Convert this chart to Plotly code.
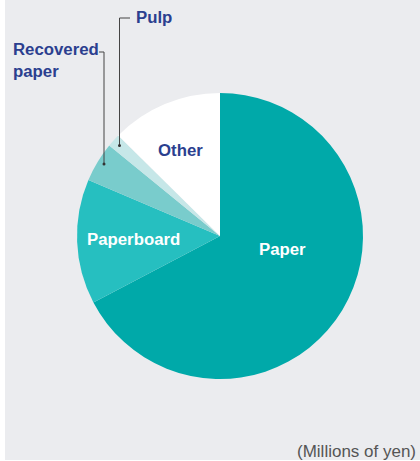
import plotly.graph_objects as go

# Data (shares)
categories = ["Paper", "Paperboard", "Recovered paper", "Pulp", "Other"]
values = [67.3, 14.1, 4.5, 1.5, 12.6]
colors = ["#00a9a9", "#26bfc0", "#79cccc", "#c6e7e8", "#ffffff"]

W, H = 420, 461
cx, cy, r = 220, 236, 143

def px(x):
    return x / W

def py(y):
    return 1 - y / H

fig = go.Figure()
fig.add_trace(go.Pie(
    labels=categories,
    values=values,
    sort=False,
    direction="clockwise",
    rotation=0,
    marker=dict(colors=colors, line=dict(width=0)),
    textinfo="none",
    hoverinfo="label+value",
    showlegend=False,
    domain=dict(x=[px(cx - r), px(cx + r)], y=[py(cy + r), py(cy - r)]),
))

blue = "#2b3f8f"
font_b = "Liberation Sans, Arial, sans-serif"
fs = 16.8

ann = []
ann.append(dict(x=px(282), y=py(249.5), text="<b>Paper</b>", font=dict(color="white", size=fs, family=font_b)))
ann.append(dict(x=px(133), y=py(240), text="<b>Paperboard</b>", font=dict(color="white", size=fs, family=font_b)))
ann.append(dict(x=px(180), y=py(151), text="<b>Other</b>", font=dict(color=blue, size=fs, family=font_b)))
ann.append(dict(x=px(11), y=py(60), text="<b>Recovered<br>paper</b>", xanchor="left", yanchor="middle", align="left",
                font=dict(color=blue, size=fs, family=font_b)))
ann.append(dict(x=px(134), y=py(18), text="<b>Pulp</b>", xanchor="left", yanchor="middle",
                font=dict(color=blue, size=fs, family=font_b)))
ann.append(dict(x=px(418), y=py(451), text="(Millions of yen)", xanchor="right", yanchor="middle",
                font=dict(color="#555555", size=17, family="Liberation Sans, Arial, sans-serif")))
for a in ann:
    a.setdefault("xanchor", "center")
    a.setdefault("yanchor", "middle")
    a.update(xref="paper", yref="paper", showarrow=False)

line = dict(color="#444444", width=1)
shapes = [
    # background panel
    dict(type="rect", xref="paper", yref="paper", x0=px(5), x1=1, y0=py(460), y1=1,
         fillcolor="#ebecef", line=dict(width=0), layer="below"),
    # Recovered paper leader
    dict(type="path", xref="paper", yref="paper",
         path=f"M {px(99)} {py(52)} L {px(104)} {py(52)} L {px(104)} {py(164)}", line=line),
    dict(type="circle", xref="paper", yref="paper", x0=px(102.5), x1=px(105.5), y0=py(165.5), y1=py(162.5),
         fillcolor="#333333", line=dict(width=0)),
    # Pulp leader
    dict(type="path", xref="paper", yref="paper",
         path=f"M {px(130)} {py(18)} L {px(119.5)} {py(18)} L {px(119.5)} {py(145.5)}", line=line),
    dict(type="circle", xref="paper", yref="paper", x0=px(118), x1=px(121), y0=py(147), y1=py(144),
         fillcolor="#333333", line=dict(width=0)),
]

fig.update_layout(
    width=W, height=H,
    margin=dict(l=0, r=0, t=0, b=0),
    paper_bgcolor="white",
    plot_bgcolor="white",
    annotations=ann,
    shapes=shapes,
)

fig.write_html("out.html")
